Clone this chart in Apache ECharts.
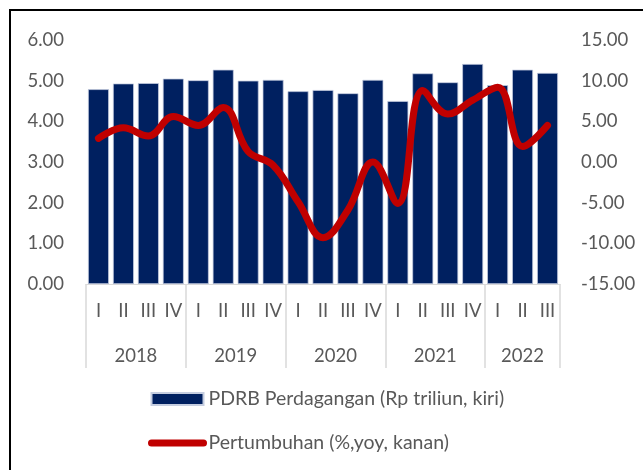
<!DOCTYPE html>
<html>
<head>
<meta charset="utf-8">
<script src="https://cdn.jsdelivr.net/npm/echarts@6/dist/echarts.min.js"></script>
<style>
  html, body { margin: 0; padding: 0; background: #fff; }
  #frame {
    position: absolute; left: 9px; top: 9px; width: 640px; height: 470px;
    border-top: 2px solid #000; border-left: 2px solid #000;
  }
  #chart { position: absolute; left: 0; top: 0; width: 643px; height: 470px; }
</style>
</head>
<body>
<div id="frame"></div>
<div id="chart"></div>
<script>
const quarters = ['I', 'II', 'III', 'IV', 'I', 'II', 'III', 'IV', 'I', 'II', 'III', 'IV',
  'I', 'II', 'III', 'IV', 'I', 'II', 'III'];
const years = ['2018', '2019', '2020', '2021', '2022'];
const yearCenters = [2, 6, 10, 14, 17.5];

const pdrb = [4.79, 4.93, 4.94, 5.05, 5.01, 5.27, 5.00, 5.02, 4.74, 4.77,
  4.69, 5.02, 4.50, 5.18, 4.96, 5.41, 4.89, 5.27, 5.19];
const growth = [2.9, 4.2, 3.2, 5.6, 4.5, 6.7, 1.3, -0.4, -4.9, -9.3,
  -5.9, 0.0, -5.1, 8.8, 5.9, 7.6, 9.2, 1.9, 4.5];

const font = 'Lato, "Open Sans", sans-serif';
const grey = '#595959';
const axisFont = 18.5;

const chart = echarts.init(document.getElementById('chart'));

chart.setOption({
  animation: false,
  textStyle: { fontFamily: font },
  grid: { left: 86, right: 83, top: 40, bottom: 186 },
  legend: {
    orient: 'vertical',
    left: 148,
    top: 389,
    padding: 0,
    itemWidth: 52,
    itemHeight: 12,
    itemGap: 24,
    textStyle: { color: grey, fontSize: 19.5, fontFamily: font },
    lineStyle: { width: 'inherit' },
    data: [
      { name: 'PDRB Perdagangan (Rp triliun, kiri)', icon: 'rect' },
      {
        name: 'Pertumbuhan (%,yoy, kanan)',
        itemStyle: { color: 'transparent', borderColor: 'transparent', borderWidth: 0 }
      }
    ]
  },
  xAxis: [
    {
      type: 'category',
      data: quarters,
      axisLine: { onZero: false, lineStyle: { color: '#d9d9d9', width: 1 } },
      axisTick: {
        show: true,
        length: 84,
        interval: (i) => i % 4 === 0,
        lineStyle: { color: '#d9d9d9', width: 1.5 }
      },
      axisLabel: { color: grey, fontSize: axisFont, margin: 18, interval: 0 }
    },
    {
      type: 'value',
      min: 0,
      max: 19,
      interval: 0.5,
      position: 'bottom',
      axisLine: { show: false, onZero: false },
      axisTick: { show: false },
      splitLine: { show: false },
      axisLabel: {
        color: grey,
        fontSize: axisFont,
        margin: 63,
        formatter: (v) => {
          const k = yearCenters.indexOf(v);
          return k >= 0 ? years[k] : '';
        }
      }
    }
  ],
  yAxis: [
    {
      type: 'value',
      min: 0,
      max: 6,
      interval: 1,
      axisLine: { show: false },
      axisTick: { show: false },
      splitLine: { show: false },
      axisLabel: { color: grey, fontSize: axisFont, margin: 22, formatter: (v) => v.toFixed(2) }
    },
    {
      type: 'value',
      min: -15,
      max: 15,
      interval: 5,
      position: 'right',
      axisLine: { show: false },
      axisTick: { show: false },
      splitLine: { show: false },
      axisLabel: { color: grey, fontSize: axisFont, margin: 21, formatter: (v) => v.toFixed(2) }
    }
  ],
  series: [
    {
      name: 'PDRB Perdagangan (Rp triliun, kiri)',
      type: 'bar',
      data: pdrb,
      barCategoryGap: '16%',
      itemStyle: { color: '#002060', borderColor: '#c5cde0', borderWidth: 0.75 }
    },
    {
      name: 'Pertumbuhan (%,yoy, kanan)',
      type: 'line',
      yAxisIndex: 1,
      data: growth,
      smooth: 0.4,
      symbol: 'none',
      z: 5,
      lineStyle: { color: '#c00000', width: 7, cap: 'round', join: 'round' },
      itemStyle: { color: '#c00000' }
    }
  ]
});

window.addEventListener('resize', () => chart.resize());
</script>
</body>
</html>
